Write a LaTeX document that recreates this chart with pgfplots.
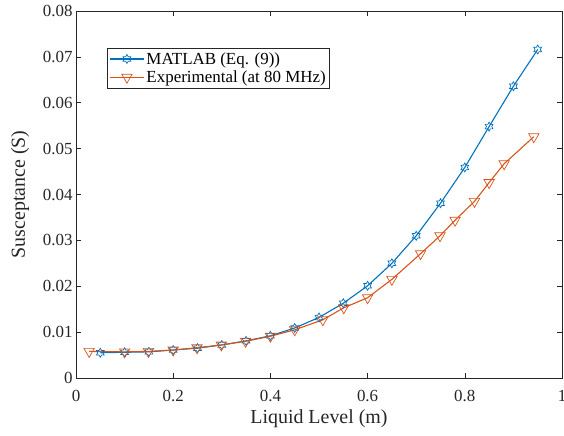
\documentclass[border=0pt]{standalone}
\usepackage{fontspec}
\setmainfont{Liberation Serif}
\usepackage{pgfplots}
\pgfplotsset{compat=1.18}
\definecolor{mblue}{rgb}{0,0.447,0.741}
\definecolor{morange}{rgb}{0.85,0.325,0.098}
\definecolor{axgray}{rgb}{0.15,0.15,0.15}
\pgfdeclareplotmark{hexagram}{%
  \pgfpathmoveto{\pgfpointpolar{90}{\pgfplotmarksize}}%
  \pgfpathlineto{\pgfpointpolar{120}{0.577\pgfplotmarksize}}%
  \pgfpathlineto{\pgfpointpolar{150}{\pgfplotmarksize}}%
  \pgfpathlineto{\pgfpointpolar{180}{0.577\pgfplotmarksize}}%
  \pgfpathlineto{\pgfpointpolar{210}{\pgfplotmarksize}}%
  \pgfpathlineto{\pgfpointpolar{240}{0.577\pgfplotmarksize}}%
  \pgfpathlineto{\pgfpointpolar{270}{\pgfplotmarksize}}%
  \pgfpathlineto{\pgfpointpolar{300}{0.577\pgfplotmarksize}}%
  \pgfpathlineto{\pgfpointpolar{330}{\pgfplotmarksize}}%
  \pgfpathlineto{\pgfpointpolar{0}{0.577\pgfplotmarksize}}%
  \pgfpathlineto{\pgfpointpolar{30}{\pgfplotmarksize}}%
  \pgfpathlineto{\pgfpointpolar{60}{0.577\pgfplotmarksize}}%
  \pgfpathclose
  \pgfusepathqstroke
}
\begin{document}
\begin{tikzpicture}
\begin{axis}[
  name=ax,
  scale only axis,
  width=486bp, height=367bp,
  xmin=0, xmax=1, ymin=0, ymax=0.08,
  /pgf/number format/assume math mode=true,
  xtick={0,0.2,0.4,0.6,0.8,1},
  ytick={0,0.01,0.02,0.03,0.04,0.05,0.06,0.07,0.08},
  yticklabels={0,0.01,0.02,0.03,0.04,0.05,0.06,0.07,0.08},
  xticklabels={0,0.2,0.4,0.6,0.8,1},
  tick align=inside,
  major tick length=5bp,
  axis line style={axgray, line width=0.6pt},
  every tick/.style={axgray, line width=0.6pt},
  ticklabel style={font=\fontsize{17}{19}\selectfont, text=axgray},
  xticklabel style={yshift=-9bp},
  label style={font=\fontsize{20}{22}\selectfont, text=axgray},
  xlabel={Liquid Level (m)},
  ylabel={Susceptance (S)},
  xlabel style={at={(axis description cs:0.5,-0.112)}, anchor=center},
  ylabel style={at={(axis description cs:-0.115,0.5)}, anchor=center, rotate=0},
  legend style={at={(0.064,0.899)}, anchor=north west, draw=axgray, line width=0.6pt,
    font=\fontsize{17}{18}\selectfont, inner sep=2pt, row sep=1pt,
    cells={anchor=west}},
  legend image code/.code={%
    \draw[mark repeat=2,mark phase=2] plot coordinates {(0cm,0cm) (0.6cm,0cm) (1.2cm,0cm)};},
]
\addplot[mblue, line width=1.1pt, mark=hexagram, mark size=4.5bp, mark options={line width=0.7pt}] coordinates {
(0.05,0.0055) (0.10,0.0056) (0.15,0.0057) (0.20,0.0061) (0.25,0.0065)
(0.30,0.0072) (0.35,0.0081) (0.40,0.0092) (0.45,0.0109) (0.50,0.0132)
(0.55,0.0163) (0.60,0.0201) (0.65,0.0250) (0.70,0.0310) (0.75,0.0381)
(0.80,0.0459) (0.85,0.0548) (0.90,0.0636) (0.95,0.0716)
};
\addlegendentry{MATLAB (Eq. (9))}
\addplot[morange, line width=1.1pt, mark=triangle, mark size=6bp, mark options={rotate=180, line width=0.7pt}] coordinates {
(0.027,0.0058) (0.10,0.0057) (0.149,0.0058) (0.20,0.0061) (0.249,0.0066)
(0.299,0.0072) (0.349,0.0080) (0.40,0.0091) (0.45,0.0105) (0.508,0.0127)
(0.551,0.0153) (0.60,0.0175) (0.65,0.0215) (0.709,0.0271) (0.749,0.0310)
(0.78,0.0344) (0.82,0.0385) (0.85,0.0426) (0.881,0.0467) (0.942,0.0526)
};
\addlegendentry{Experimental (at 80 MHz)}
\end{axis}
\pgfresetboundingbox
\path[use as bounding box] ([shift={(-76bp,-58bp)}]ax.south west) rectangle ([shift={(2bp,11bp)}]ax.north east);
\end{tikzpicture}
\end{document}
